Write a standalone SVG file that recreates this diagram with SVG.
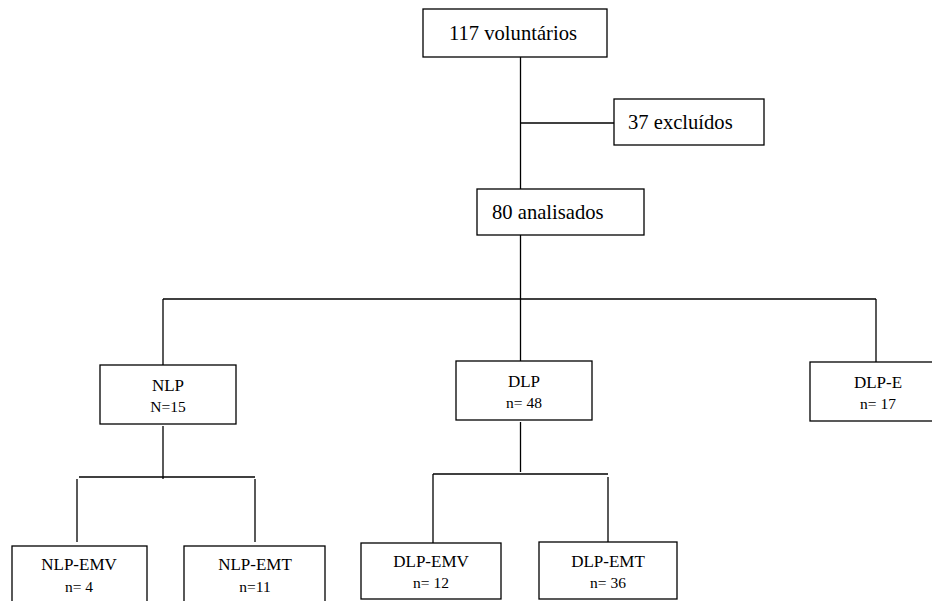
<svg xmlns="http://www.w3.org/2000/svg" width="932" height="601" viewBox="0 0 932 601">
<style>
.box{fill:#fff;stroke:#000;stroke-width:1.3}
line{stroke:#000;stroke-width:1.3}
text{font-family:'Liberation Serif','Times New Roman','DejaVu Serif',serif;fill:#000}
.big{font-size:20.6px}
.t1{font-size:17px;text-anchor:middle}
.t2{font-size:15.5px;text-anchor:middle}
</style>
<g id="connectors">
<line x1="520.5" y1="57" x2="520.5" y2="189"/>
<line x1="520.5" y1="123" x2="614" y2="123"/>
<line x1="520.5" y1="235" x2="520.5" y2="361"/>
<line x1="163" y1="299" x2="876" y2="299"/>
<line x1="163" y1="299" x2="163" y2="365"/>
<line x1="876" y1="299" x2="876" y2="362"/>
<line x1="163" y1="426" x2="163" y2="479"/>
<line x1="79" y1="477" x2="255" y2="477"/>
<line x1="77" y1="479" x2="77" y2="542"/>
<line x1="255" y1="479" x2="255" y2="542"/>
<line x1="520.5" y1="422" x2="520.5" y2="472"/>
<line x1="433" y1="474" x2="608" y2="474"/>
<line x1="433" y1="474" x2="433" y2="543"/>
<line x1="608" y1="477" x2="608" y2="542"/>
</g>
<g id="n117"><rect class="box" x="423" y="9" width="184" height="48"/><text class="big" x="449" y="40">117 voluntários</text></g>
<g id="n37"><rect class="box" x="614" y="99" width="150" height="46"/><text class="big" x="628" y="129">37 excluídos</text></g>
<g id="n80"><rect class="box" x="477" y="189" width="167" height="46"/><text class="big" x="492" y="219">80 analisados</text></g>
<g id="nlp"><rect class="box" x="100" y="365" width="136" height="59"/><text class="t1" x="168" y="391">NLP</text><text class="t2" x="168" y="412">N=15</text></g>
<g id="dlp"><rect class="box" x="456" y="361" width="136" height="59"/><text class="t1" x="524" y="387">DLP</text><text class="t2" x="524" y="408">n= 48</text></g>
<g id="dlpe"><rect class="box" x="810" y="362" width="130" height="59"/><text class="t1" x="878" y="388">DLP-E</text><text class="t2" x="878" y="409">n= 17</text></g>
<g id="nlpemv"><rect class="box" x="12" y="546" width="135" height="65"/><text class="t1" x="79" y="570">NLP-EMV</text><text class="t2" x="79" y="592">n= 4</text></g>
<g id="nlpemt"><rect class="box" x="184" y="546" width="141" height="65"/><text class="t1" x="255" y="570">NLP-EMT</text><text class="t2" x="255" y="592">n=11</text></g>
<g id="dlpemv"><rect class="box" x="361" y="543" width="140" height="56"/><text class="t1" x="431" y="567">DLP-EMV</text><text class="t2" x="431" y="588">n= 12</text></g>
<g id="dlpemt"><rect class="box" x="539" y="542" width="138" height="57"/><text class="t1" x="608" y="567">DLP-EMT</text><text class="t2" x="608" y="588">n= 36</text></g>
</svg>
